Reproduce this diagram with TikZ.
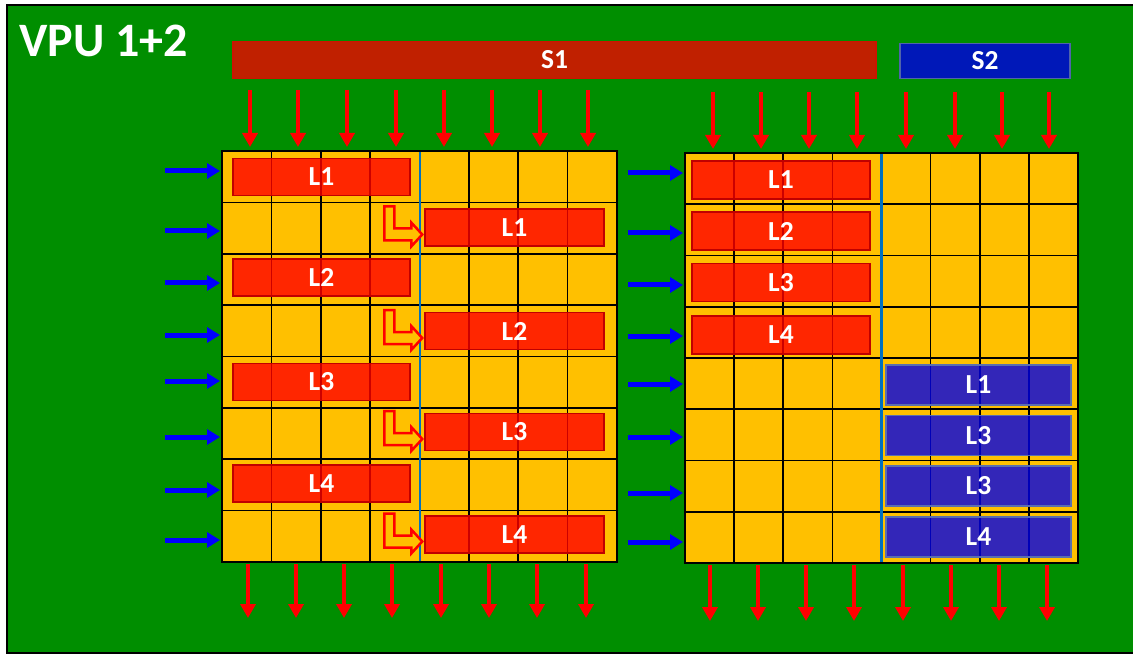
\documentclass[tikz,border=0pt]{standalone}
\usepackage{fontspec}
\setmainfont{Carlito}
\usetikzlibrary{arrows.meta}
\definecolor{vgreen}{RGB}{0,142,0}
\definecolor{gold}{RGB}{255,192,0}
\definecolor{sonefill}{RGB}{192,32,0}
\definecolor{soneline}{RGB}{205,20,0}
\definecolor{stwofill}{RGB}{0,24,184}
\definecolor{stwoline}{RGB}{80,100,170}
\definecolor{arrowred}{RGB}{255,0,0}
\definecolor{arrowblue}{RGB}{0,0,255}
\definecolor{boxredline}{RGB}{192,0,0}
\definecolor{boxblue}{RGB}{0,0,230}
\definecolor{boxblueline}{RGB}{90,110,175}
\definecolor{sepblue}{RGB}{0,112,192}
\newcommand{\lblfont}{\bfseries\fontsize{27.5}{27.5}\selectfont}
\tikzset{
  redarrow/.style={draw=arrowred, line width=4.5pt, -{Triangle[length=14pt,width=15pt]}},
  bluearrow/.style={draw=arrowblue, line width=5pt, -{Triangle[length=13pt,width=15pt]}},
  redbox/.style={draw=boxredline, line width=1.5pt, fill=arrowred, fill opacity=0.8, text opacity=1,
    text=white, font=\lblfont, minimum height=37pt, inner sep=0pt},
  bluebox/.style={draw=boxblueline, line width=1.2pt, fill=boxblue, fill opacity=0.8, text opacity=1,
    text=white, font=\lblfont, minimum height=40pt, inner sep=0pt},
  gridfill/.style={fill=gold, inner sep=0pt},
  gridline/.style={black, line width=1.6pt},
  gridborder/.style={black, line width=2pt},
  sepline/.style={sepblue, line width=2.5pt},
  larrow/.pic={\draw[draw=arrowred, line width=2.5pt, fill=gold, line join=miter]
    (-40,-21) -- (-30,-21) -- (-30,1) -- (-13,1) -- (-13,-5) -- (-2,7) -- (-13,19) -- (-13,13) -- (-40,13) -- cycle;}
}
\begin{document}
\begin{tikzpicture}[x=1pt,y=-1pt]
\useasboundingbox (0,0) rectangle (1133,655);
\fill[white] (0,0) rectangle (1133,655);
\draw[black, line width=2pt, fill=vgreen] (7,5) rectangle (1136,653);

\node[anchor=west, font=\bfseries\fontsize{48}{48}\selectfont, text=white, inner sep=0pt] (title) at (19,41) {VPU 1+2};

\node[draw=soneline, fill=sonefill, line width=1.5pt, minimum width=643pt, minimum height=37pt,
  text=white, font=\lblfont, inner sep=0pt] (S1) at (554.5,60) {S1};
\node[draw=stwoline, fill=stwofill, line width=1.5pt, minimum width=170pt, minimum height=35pt,
  text=white, font=\lblfont, inner sep=0pt] (S2) at (985,61) {S2};

% left grid
\node[gridfill, minimum width=395pt, minimum height=411pt] (gridA) at (419.5,356.5) {};
\foreach \i in {1,2,3,5,6,7} \draw[gridline] ({222+\i*49.375},151) -- ({222+\i*49.375},562);
\foreach \j in {1,...,7} \draw[gridline] (222,{151+\j*51.375}) -- (617,{151+\j*51.375});
\draw[gridborder] (gridA.north west) rectangle (gridA.south east);

% right grid
\node[gridfill, minimum width=393pt, minimum height=410pt] (gridB) at (881.5,358) {};
\foreach \i in {1,2,3,5,6,7} \draw[gridline] ({685+\i*49.125},153) -- ({685+\i*49.125},563);
\foreach \j in {1,...,7} \draw[gridline] (685,{153+\j*51.25}) -- (1078,{153+\j*51.25});
\draw[gridborder] (gridB.north west) rectangle (gridB.south east);

% left grid boxes
\node[redbox, minimum width=177pt] (a1) at (321.5,177) {L1};
\node[redbox, minimum width=179pt] (b1) at (514.5,227.5) {L1};
\node[redbox, minimum width=177pt] (a2) at (321.5,277.5) {L2};
\node[redbox, minimum width=179pt] (b2) at (514.5,331) {L2};
\node[redbox, minimum width=177pt] (a3) at (321.5,382) {L3};
\node[redbox, minimum width=179pt] (b3) at (514.5,432) {L3};
\node[redbox, minimum width=177pt] (a4) at (321.5,483.5) {L4};
\node[redbox, minimum width=179pt] (b4) at (514.5,534.5) {L4};

% right grid boxes
\node[redbox, minimum width=178pt, minimum height=38pt] (c1) at (781,180) {L1};
\node[redbox, minimum width=178pt, minimum height=38pt] (c2) at (781,231) {L2};
\node[redbox, minimum width=178pt, minimum height=38pt] (c3) at (781,282.5) {L3};
\node[redbox, minimum width=178pt, minimum height=38pt] (c4) at (781,335) {L4};
\node[bluebox, minimum width=185pt] (d1) at (978.5,385) {L1};
\node[bluebox, minimum width=185pt] (d2) at (978.5,435.5) {L3};
\node[bluebox, minimum width=185pt] (d3) at (978.5,486) {L3};
\node[bluebox, minimum width=185pt] (d4) at (978.5,537) {L4};

% separators
\draw[sepline] (419.75,152) -- (419.75,561);
\draw[sepline] (881.5,154) -- (881.5,562);

% L-shaped arrows
\foreach \n in {b1,b2,b3,b4} \pic at (\n.west) {larrow};

% top arrows
\foreach \x [count=\k] in {250,298,347,396,444,492,540,588} {
  \coordinate (ts\k) at (\x,90); \coordinate (te\k) at (\x,147);
  \draw[redarrow] (ts\k) -- (te\k);
}
\foreach \x [count=\k] in {713,761,809,857,906,955,1002,1049} {
  \coordinate (us\k) at (\x,92); \coordinate (ue\k) at (\x,149);
  \draw[redarrow] (us\k) -- (ue\k);
}
% bottom arrows
\foreach \x [count=\k] in {248,296,344,392,441,489,537,586} {
  \coordinate (bs\k) at (\x,564); \coordinate (be\k) at (\x,618);
  \draw[redarrow] (bs\k) -- (be\k);
}
\foreach \x [count=\k] in {710,758,806,854,903,951,999,1047} {
  \coordinate (vs\k) at (\x,565); \coordinate (ve\k) at (\x,621);
  \draw[redarrow] (vs\k) -- (ve\k);
}
% side arrows
\foreach \y [count=\k] in {171,231,283,335,381,437,490,540} {
  \coordinate (ls\k) at (165,\y); \coordinate (le\k) at (220,\y);
  \draw[bluearrow] (ls\k) -- (le\k);
}
\foreach \y [count=\k] in {173,233,285,336,384,437,493,542} {
  \coordinate (rs\k) at (628,\y); \coordinate (re\k) at (683,\y);
  \draw[bluearrow] (rs\k) -- (re\k);
}
\end{tikzpicture}
\end{document}
